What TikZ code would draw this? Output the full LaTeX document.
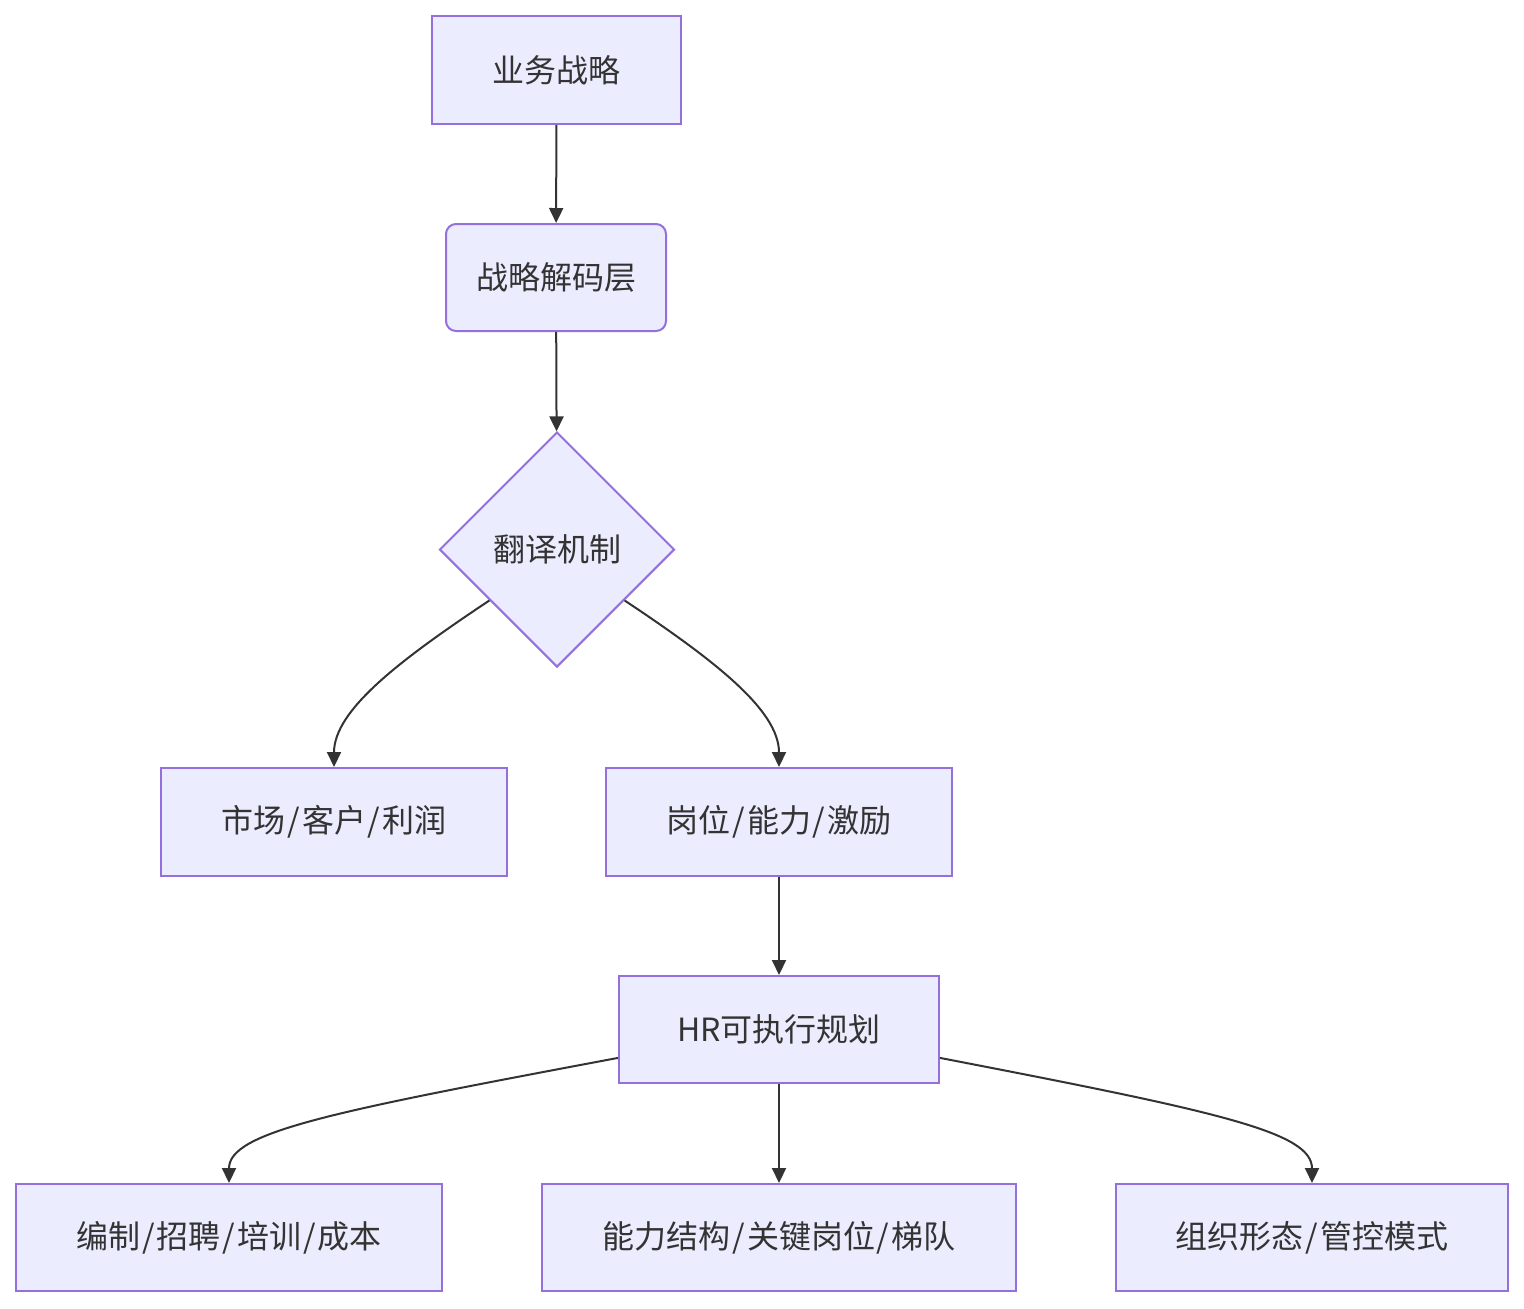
\documentclass[tikz,border=0pt]{standalone}
\usepackage{fontspec}
\setmainfont{Noto Sans CJK SC}
\usetikzlibrary{shapes.geometric,arrows.meta}
\definecolor{nodefill}{HTML}{ECECFF}
\definecolor{nodeline}{HTML}{9370DB}
\definecolor{edgeline}{HTML}{333333}
\definecolor{txt}{HTML}{333333}
\newcommand{\myslash}{\kern1pt/\kern1pt}
\tikzset{
  box/.style={draw=nodeline, fill=nodefill, line width=1pt, inner sep=0pt,
    minimum height=54pt, text=txt, font=\fontsize{16pt}{20pt}\selectfont},
  rbox/.style={box, rounded corners=5pt},
  dia/.style={box, diamond, minimum width=117.5pt, minimum height=117.5pt, aspect=1},
  edge/.style={draw=edgeline, line width=1pt, -{Triangle[length=7.5pt,width=7pt]}}
}
\begin{document}
\begin{tikzpicture}[x=0.5pt,y=-0.5pt]
\useasboundingbox (0,0) rectangle (1524,1308);
\node[box, minimum width=124.5pt] (A) at (556.5,70) {业务战略};
\node[rbox, minimum width=110pt, minimum height=53.5pt] (B) at (556,277.5) {战略解码层};
\node[dia] (C) at (557,549.5) {翻译机制};
\node[box, minimum width=173pt] (D) at (334,822) {市场\myslash 客户\myslash 利润};
\node[box, minimum width=173pt] (E) at (779,822) {岗位\myslash 能力\myslash 激励};
\node[box, minimum width=160pt, minimum height=53.5pt] (F) at (779,1029.5) {HR可执行规划};
\node[box, minimum width=213pt, minimum height=53.5pt] (G) at (229,1237.5) {编制\myslash 招聘\myslash 培训\myslash 成本};
\node[box, minimum width=237pt, minimum height=53.5pt] (H) at (779,1237.5) {能力结构\myslash 关键岗位\myslash 梯队};
\node[box, minimum width=196pt, minimum height=53.5pt] (I) at (1312,1237.5) {组织形态\myslash 管控模式};

\draw[edge] (A) -- (B);
\draw[edge] (B) -- (C);
\draw[edge] (C.-143) .. controls (400,660) and (334,710) .. (D.north);
\draw[edge] (C.-37) .. controls (714,660) and (779,710) .. (E.north);
\draw[edge] (E) -- (F);
\draw[edge] (F.190) .. controls (330,1112) and (229,1132) .. (G.north);
\draw[edge] (F) -- (H);
\draw[edge] (F.-10) .. controls (1220,1112) and (1312,1132) .. (I.north);
\end{tikzpicture}
\end{document}
